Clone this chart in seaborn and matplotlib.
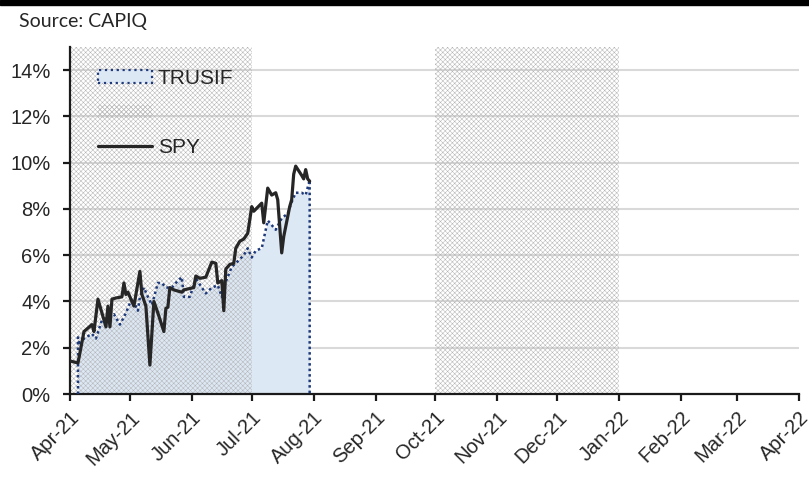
import pandas as pd
import numpy as np
import matplotlib
matplotlib.use("Agg")
import matplotlib.pyplot as plt
import matplotlib.dates as mdates
from matplotlib.patches import Patch, Rectangle
from matplotlib.lines import Line2D
import seaborn as sns

# SPY cumulative return (%)
spy_dates = ["2021-04-01", "2021-04-05", "2021-04-08", "2021-04-12", "2021-04-13", "2021-04-15",
             "2021-04-19", "2021-04-20", "2021-04-21", "2021-04-22", "2021-04-24", "2021-04-27",
             "2021-04-28", "2021-04-29", "2021-04-30", "2021-05-03", "2021-05-06", "2021-05-07",
             "2021-05-09", "2021-05-11", "2021-05-13", "2021-05-15", "2021-05-18", "2021-05-19",
             "2021-05-20", "2021-05-21", "2021-05-23", "2021-05-27", "2021-05-28", "2021-06-02",
             "2021-06-03", "2021-06-05", "2021-06-08", "2021-06-11", "2021-06-13", "2021-06-14",
             "2021-06-16", "2021-06-17", "2021-06-18", "2021-06-20", "2021-06-22", "2021-06-23",
             "2021-06-25", "2021-06-27", "2021-06-29", "2021-07-01", "2021-07-02", "2021-07-06",
             "2021-07-07", "2021-07-09", "2021-07-11", "2021-07-13", "2021-07-14", "2021-07-16",
             "2021-07-17", "2021-07-20", "2021-07-21", "2021-07-22", "2021-07-23", "2021-07-26",
             "2021-07-27", "2021-07-28", "2021-07-29", "2021-07-30"]
spy_values = [1.43, 1.34, 2.7, 3.0, 2.7, 4.1,
              2.9, 3.8, 2.9, 4.1, 4.15, 4.2,
              4.8, 4.3, 4.4, 3.8, 5.3, 4.3,
              3.8, 1.25, 4.0, 3.5, 2.7, 3.7,
              3.75, 4.6, 4.5, 4.4, 4.5, 4.6,
              5.1, 5.0, 5.05, 5.7, 5.65, 4.8,
              4.9, 3.6, 5.4, 5.6, 5.65, 6.3,
              6.6, 6.7, 6.95, 8.1, 7.9, 8.25,
              7.4, 8.9, 8.6, 8.7, 8.4, 6.1,
              6.8, 8.1, 8.4, 9.5, 9.85, 9.45,
              9.3, 9.7, 9.3, 9.2]

# TRUSIF cumulative return (%)
trusif_dates = ["2021-04-05", "2021-04-06", "2021-04-08", "2021-04-12", "2021-04-14", "2021-04-17",
                "2021-04-20", "2021-04-23", "2021-04-26", "2021-04-29", "2021-05-02", "2021-05-05",
                "2021-05-06", "2021-05-08", "2021-05-10", "2021-05-12", "2021-05-15", "2021-05-17",
                "2021-05-19", "2021-05-22", "2021-05-25", "2021-05-27", "2021-05-28", "2021-05-31",
                "2021-06-03", "2021-06-06", "2021-06-08", "2021-06-11", "2021-06-14", "2021-06-16",
                "2021-06-18", "2021-06-21", "2021-06-23", "2021-06-27", "2021-06-29", "2021-07-01",
                "2021-07-03", "2021-07-06", "2021-07-09", "2021-07-11", "2021-07-13", "2021-07-16",
                "2021-07-19", "2021-07-21", "2021-07-23", "2021-07-26", "2021-07-28", "2021-07-30"]
trusif_values = [2.45, 2.1, 2.4, 2.6, 2.4, 3.2,
                 3.3, 3.45, 3.0, 3.5, 4.15, 3.6,
                 4.2, 4.6, 4.2, 3.85, 4.8, 4.8,
                 4.6, 4.6, 4.9, 5.05, 4.2, 4.2,
                 5.0, 4.6, 4.35, 4.6, 4.7, 4.2,
                 4.85, 5.5, 5.65, 6.0, 6.3, 5.9,
                 6.2, 6.3, 7.5, 7.3, 7.1, 7.6,
                 7.8, 8.3, 8.7, 8.7, 8.6, 9.25]

# shaded quarters
shade_starts = ["2021-04-01", "2021-10-01"]
shade_ends = ["2021-07-01", "2022-01-01"]

month_ticks = pd.date_range("2021-04-01", "2022-04-01", freq="MS")

spy = pd.DataFrame({"date": pd.to_datetime(spy_dates), "ret": spy_values})
tru = pd.DataFrame({"date": pd.to_datetime(trusif_dates), "ret": trusif_values})

sns.set_style("ticks")
plt.rcParams["font.family"] = ["Liberation Sans", "DejaVu Sans"]
plt.rcParams["hatch.linewidth"] = 0.35

fig = plt.figure(figsize=(8.09, 4.87), dpi=100)
ax = fig.add_axes([70 / 809, 93 / 487, 729 / 809, 347 / 487])

fill_col = "#dde8f5"
navy = "#1f3a7a"
hatch_col = "#b4b4b4"
hatch_pat = "xxxxxxx"

# grid
for v in range(2, 16, 2):
    ax.axhline(v, color="#d9d9d9", lw=1.5, zorder=0)

# TRUSIF area
ax.fill_between(tru["date"], 0, tru["ret"], color=fill_col, lw=0, zorder=1)

# quarter shading
for s, e in zip(shade_starts, shade_ends):
    ax.axvspan(pd.Timestamp(s), pd.Timestamp(e), facecolor="none", edgecolor=hatch_col,
               hatch=hatch_pat, lw=0, zorder=2)

# TRUSIF border (closed down to zero at both ends)
edge_x = pd.concat([tru["date"].iloc[:1], tru["date"], tru["date"].iloc[-1:]])
edge_y = np.r_[0, tru["ret"].values, 0]
ax.plot(edge_x, edge_y, color=navy, lw=1.8, ls=(0, (1, 1.2)), zorder=3)

sns.lineplot(data=spy, x="date", y="ret", color="#262626", lw=2.3, ax=ax, zorder=4)

ax.set_xlim(pd.Timestamp("2021-04-01"), pd.Timestamp("2022-04-01"))
ax.set_ylim(0, 15)
ax.set_yticks(range(0, 16, 2))
ax.set_yticklabels([f"{v}%" for v in range(0, 16, 2)], fontsize=14.5)
ax.set_xticks(month_ticks)
ax.xaxis.set_major_formatter(mdates.DateFormatter("%b-%y"))
plt.setp(ax.get_xticklabels(), rotation=45, ha="right", rotation_mode="anchor", fontsize=14.5)
ax.set_xlabel("")
ax.set_ylabel("")

for sp in ["top", "right"]:
    ax.spines[sp].set_visible(False)
for sp in ["left", "bottom"]:
    ax.spines[sp].set_linewidth(1.6)
    ax.spines[sp].set_color("#1a1a1a")
ax.tick_params(axis="both", direction="out", length=5, width=1.6, color="#1a1a1a")
ax.tick_params(axis="y", pad=9)
ax.tick_params(axis="x", pad=5)

handles = [
    Patch(facecolor=fill_col, edgecolor=navy, linestyle=":", lw=1.6),
    Patch(facecolor="none", edgecolor=hatch_col, hatch=hatch_pat, lw=0),
    Line2D([0], [0], color="#262626", lw=2.3),
]
ax.legend(handles, ["TRUSIF", "", "SPY"], loc="upper left", bbox_to_anchor=(0.013, 0.99),
          frameon=False, fontsize=15, handlelength=2.6, handleheight=0.6,
          handletextpad=0.25, labelspacing=0.75)

# header
fig.patches.append(Rectangle((0, 1 - 5 / 487), 1, 5 / 487, transform=fig.transFigure,
                             color="black", zorder=10))
fig.text(19 / 809, 1 - 21 / 487, "Source: CAPIQ", fontsize=14, va="center", ha="left",
         family=["Lato", "DejaVu Sans"])

fig.savefig("out.png", dpi=100)
